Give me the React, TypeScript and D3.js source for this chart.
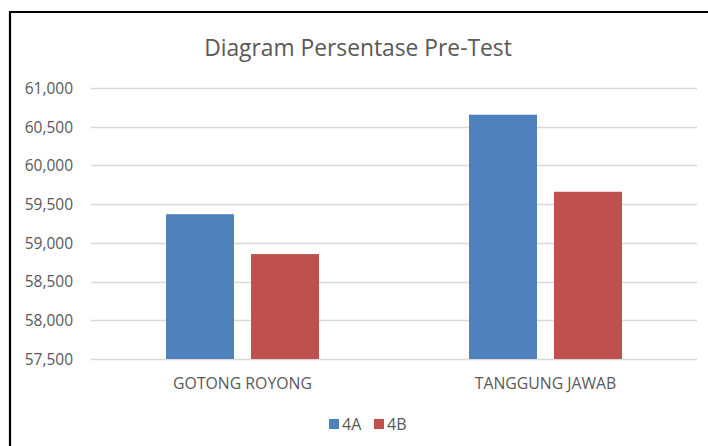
import { useEffect, useRef } from 'react';
import * as d3 from 'd3';

// chart data
const categories = ['GOTONG ROYONG', 'TANGGUNG JAWAB'];
const seriesNames = ['4A', '4B'];
const values4A = [59370, 60655];
const values4B = [58855, 59660];
const yTicks = [57500, 58000, 58500, 59000, 59500, 60000, 60500, 61000];
const colors = ['#4F81BD', '#C0504D'];

const App = () => {
  const svgRef = useRef<SVGSVGElement>(null);

  useEffect(() => {
    const root = d3.select(svgRef.current);
    root.selectAll('*').remove();

    const W = 708;
    const H = 446;
    const font = "'Open Sans', sans-serif";
    const textColor = '#595959';

    root.attr('width', W).attr('height', H);
    root.append('rect').attr('width', W).attr('height', H).attr('fill', '#fff');

    // outer frame (only top & left visible)
    root
      .append('path')
      .attr('d', `M10,${H} L10,12 L${W},12`)
      .attr('fill', 'none')
      .attr('stroke', '#000')
      .attr('stroke-width', 2.2);

    const plot = { left: 91, right: 697, top: 88, bottom: 359 };

    const x = d3.scaleBand().domain(categories).range([plot.left, plot.right]);
    const x1 = d3
      .scaleBand()
      .domain(seriesNames)
      .range([x.bandwidth() / 2 - 76.5, x.bandwidth() / 2 + 76.5])
      .paddingInner(0.2);
    const y = d3.scaleLinear().domain([57500, 61000]).range([plot.bottom, plot.top]);

    // title
    root
      .append('text')
      .attr('x', 358)
      .attr('y', 56)
      .attr('text-anchor', 'middle')
      .style('font-family', font)
      .style('font-size', '22.8px')
      .attr('fill', textColor)
      .text('Diagram Persentase Pre-Test');

    // gridlines + y labels
    const fmt = d3.format(',.0f');
    const grid = root.append('g');
    yTicks.forEach((t) => {
      grid
        .append('line')
        .attr('x1', plot.left)
        .attr('x2', plot.right)
        .attr('y1', Math.round(y(t)) + 0.5)
        .attr('y2', Math.round(y(t)) + 0.5)
        .attr('stroke', '#D9D9D9')
        .attr('stroke-width', 1.3);
      grid
        .append('text')
        .attr('x', 73)
        .attr('y', y(t) + 5.8)
        .attr('text-anchor', 'end')
        .style('font-family', font)
        .style('font-size', '15.5px')
        .attr('fill', textColor)
        .text(fmt(t));
    });

    // bars
    const series = [values4A, values4B];
    categories.forEach((c, i) => {
      seriesNames.forEach((s, j) => {
        const v = series[j][i];
        root
          .append('rect')
          .attr('x', (x(c) ?? 0) + (x1(s) ?? 0))
          .attr('y', y(v))
          .attr('width', x1.bandwidth())
          .attr('height', y(57500) - y(v))
          .attr('fill', colors[j]);
      });
    });

    // category labels
    categories.forEach((c) => {
      root
        .append('text')
        .attr('x', (x(c) ?? 0) + x.bandwidth() / 2)
        .attr('y', 389)
        .attr('text-anchor', 'middle')
        .style('font-family', font)
        .style('font-size', '15.8px')
        .attr('fill', textColor)
        .text(c);
    });

    // legend
    const legendX = [329, 374];
    seriesNames.forEach((s, j) => {
      root
        .append('rect')
        .attr('x', legendX[j])
        .attr('y', 419)
        .attr('width', 10)
        .attr('height', 10)
        .attr('fill', colors[j]);
      root
        .append('text')
        .attr('x', legendX[j] + 13)
        .attr('y', 429.5)
        .style('font-family', font)
        .style('font-size', '16px')
        .attr('fill', textColor)
        .text(s);
    });
  }, []);

  return (
    <svg
      ref={svgRef}
      style={{ position: 'absolute', left: 0, top: 0, display: 'block' }}
    ></svg>
  );
};

export default App;
